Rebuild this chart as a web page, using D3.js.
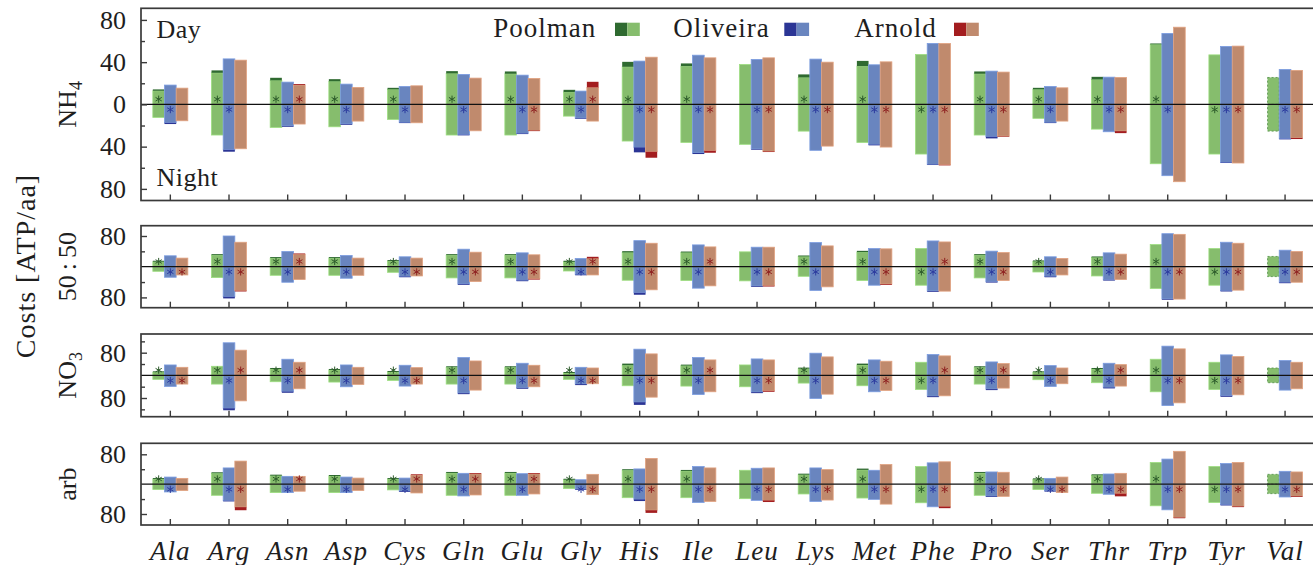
<!DOCTYPE html>
<html><head><meta charset="utf-8">
<script src="https://cdn.jsdelivr.net/npm/d3@7"></script>
<style>
body{margin:0;background:#fff;}
svg{display:block;}
text{font-family:'Liberation Serif','Times New Roman',serif;fill:#1e1e1e;}
</style>
</head><body><svg id="c" width="1313" height="565"></svg>
<script>
const categories = ["Ala","Arg","Asn","Asp","Cys","Gln","Glu","Gly","His","Ile","Leu","Lys","Met","Phe","Pro","Ser","Thr","Trp","Tyr","Val"];
const seriesNames = ["Poolman","Oliveira","Arnold"];
const panelNames = ["NH4","50:50","NO3","arb"];
const tickMajorNH4 = [80,40,0,-40,-80], tickMinorNH4 = [60,20,-20,-60];
const tickMajorMix = [80,-80], tickMinorMix = [40,-40];
const tickMajorNO3 = [80,-80], tickMinorNO3 = [120,40,-40,-120];
const tickMajorArb = [80,-80], tickMinorArb = [40,-40];

// ---- NH4 ----
const nh4PoolmanDay       = [14.2,32.2,25.2,23.9,15.7,31.5,31.2,13.8,40.3,38.8,37.8,28.4,41.2,47.3,31.2,15.7,26.1,57.7,46.9,25.5];
const nh4PoolmanDayDark   = [1.3,2.3,2.5,2.1,1.5,2.2,2.2,2.2,4.7,2.6,0,2.9,5.0,0,2.2,1.5,2.5,0.9,0,0];
const nh4PoolmanNight     = [12.3,29.0,21.8,21.2,14.2,29.0,29.0,11.1,34.7,36.0,37.8,25.3,36.0,47.0,29.0,13.2,23.4,56.2,47.0,25.3];
const nh4PoolmanNightDark = null;
const nh4PoolmanStar      = [1,1,1,1,1,1,1,1,1,1,0,1,1,-1,1,1,1,1,-1,0];
const nh4OliveiraDay       = [18.3,43.1,21.1,19.2,17.0,28.4,27.7,12.6,41.0,46.6,42.6,42.9,37.5,57.7,31.5,17.0,25.8,67.2,54.9,33.1];
const nh4OliveiraDayDark   = null;
const nh4OliveiraNight     = [18.6,44.8,21.2,19.3,17.7,29.3,28.1,13.6,45.4,47.0,42.9,43.5,38.8,57.4,32.2,17.7,25.9,67.5,55.5,33.1];
const nh4OliveiraNightDark = [1.2,1.8,0.7,0.7,0.5,0.6,0.6,0.6,4.7,1.0,0.6,0,0.8,0.5,1.6,0.5,0,0,0.5,0.6];
const nh4OliveiraStar      = [-1,-1,-1,-1,-1,-1,-1,-1,-1,-1,-1,-1,-1,-1,-1,-1,-1,-1,-1,-1];
const nh4ArnoldDay       = [15.4,41.9,19.2,16.1,17.6,24.9,24.6,21.4,44.7,44.1,44.1,40.0,40.3,57.7,30.6,15.7,25.5,73.1,55.2,32.2];
const nh4ArnoldDayDark   = [0,0,0.9,0,0,0,0,5.3,0,0,0,0,0,0,0,0,0,0,0,0];
const nh4ArnoldNight     = [15.5,42.0,18.6,15.8,17.4,25.0,25.3,15.8,50.5,45.8,45.1,39.5,40.4,57.7,30.6,15.8,27.2,73.2,55.5,32.8];
const nh4ArnoldNightDark = [0,0,0,0,0,0,0.6,0,5.7,1.9,0.6,0,0,0.5,0.5,0,1.9,0,0,1.1];
const nh4ArnoldStar      = [0,0,1,0,0,0,-1,1,-1,-1,-1,-1,-1,-1,-1,0,-1,0,-1,-1];

// ---- 50:50 ----
const mixPoolmanDay       = [15.5,32.7,25.0,25.0,17.2,32.7,32.7,15.5,40.5,39.5,38.7,29.2,41.3,47.3,32.7,16.3,26.7,57.6,47.3,26.7];
const mixPoolmanDayDark   = [2.6,2.6,2.6,2.6,2.6,2.6,2.6,3.0,3.5,2.6,0,2.6,3.5,0,2.6,2.6,2.6,0,0,0];
const mixPoolmanNight     = [12.0,28.4,22.4,22.4,14.6,29.2,29.2,11.2,35.3,36.1,36.9,25.0,36.1,48.2,29.2,13.8,24.1,56.8,48.2,25.8];
const mixPoolmanNightDark = null;
const mixPoolmanStar      = [1,1,1,1,1,1,1,1,1,1,0,1,1,-1,1,1,1,1,-1,0];
const mixOliveiraDay       = [28.4,80.0,39.5,29.2,25.8,45.6,36.1,21.5,67.9,56.8,50.8,62.8,47.3,67.1,40.5,25.8,36.1,86.0,63.7,43.0];
const mixOliveiraDayDark   = null;
const mixOliveiraNight     = [27.5,82.6,40.5,30.1,27.5,47.3,37.8,22.4,73.1,55.9,52.5,61.9,48.2,65.4,41.3,27.5,36.1,86.0,64.5,43.0];
const mixOliveiraNightDark = [0,4.4,0,0,2,2,2,2,5.2,0,2,0,0,2,2,2,2,2,2,2];
const mixOliveiraStar      = [-1,-1,-1,-1,-1,-1,-1,-1,-1,-1,-1,-1,-1,-1,-1,-1,-1,-1,-1,-1];
const mixArnoldDay       = [22.4,63.7,34.4,22.4,22.4,37.8,31.0,25.8,61.1,51.6,50.8,54.2,46.5,64.5,36.9,21.5,32.7,84.3,61.1,39.5];
const mixArnoldDayDark   = [0,0,2,0,0,0,0,4.3,0,0,0,0,0,0,0,0,0,0,0,0];
const mixArnoldNight     = [21.5,64.5,33.5,22.4,24.1,38.7,33.5,21.5,60.2,49.9,51.6,52.5,47.3,63.7,36.1,21.5,33.5,84.3,61.1,40.5];
const mixArnoldNightDark = [0,2,0,0,0,0,2,0,0,0,2,0,2,0,0,0,0,0,0,0];
const mixArnoldStar      = [-1,-1,1,0,-1,-1,-1,1,-1,1,-1,0,-1,1,-1,0,-1,-1,-1,-1];

// ---- NO3 ----
const no3PoolmanDay       = [14.2,32.0,26.0,22.5,15.4,32.0,32.0,11.8,41.5,37.9,36.7,27.3,41.5,46.2,32.0,14.2,26.0,56.9,46.2,26.0];
const no3PoolmanDayDark   = [3.5,0,3.5,3.5,3.5,3.5,3.5,3.5,5.9,3.5,0,3.5,5.0,0,3.5,3.5,3.5,0,0,0];
const no3PoolmanNight     = [14.2,30.8,22.5,23.7,17.8,30.8,30.8,14.2,36.7,37.9,40.3,27.3,36.7,49.8,30.8,15.4,26.0,58.0,49.8,26.0];
const no3PoolmanNightDark = null;
const no3PoolmanStar      = [1,1,1,1,1,1,1,1,1,1,0,1,1,-1,1,1,1,1,-1,0];
const no3OliveiraDay       = [36.7,115.0,56.9,36.7,35.6,62.8,42.7,28.4,92.4,62.8,58.0,78.2,54.5,73.5,47.4,34.4,42.7,103.1,72.3,52.1];
const no3OliveiraDayDark   = null;
const no3OliveiraNight     = [39.1,123.3,61.6,40.3,37.9,66.4,47.4,34.4,104.3,67.6,62.8,81.8,58.0,77.0,52.1,39.1,46.2,106.7,75.8,52.1];
const no3OliveiraNightDark = [0,7,4.5,0,0,3.5,3.5,3.5,9.5,0,3.5,0,0,3.5,3.5,0,3.5,0,3.5,0];
const no3OliveiraStar      = [-1,-1,-1,-1,-1,-1,-1,-1,-1,-1,-1,-1,-1,-1,-1,-1,-1,-1,-1,0];
const no3ArnoldDay       = [28.4,88.9,46.2,28.4,27.3,50.8,35.6,26.0,75.8,54.5,54.5,65.2,49.8,68.7,41.5,26.0,37.9,93.5,66.4,46.2];
const no3ArnoldDayDark   = null;
const no3ArnoldNight     = [30.8,90.1,47.4,32.0,30.8,52.1,40.3,29.6,77.0,58.0,58.0,66.4,53.3,72.3,45.0,29.6,37.9,97.1,68.7,47.4];
const no3ArnoldNightDark = [0,0,0,0,0,0,0,0,0,0,3.5,0,0,0,0,0,0,0,0,0];
const no3ArnoldStar      = [-1,1,1,0,-1,0,-1,-1,-1,1,-1,0,-1,1,1,0,1,-1,-1,0];

// ---- arb ----
const arbPoolmanDay       = [16.3,31.8,25.4,24.5,16.3,32.7,32.7,14.5,40.0,38.1,37.2,28.1,41.7,47.2,32.7,15.5,26.3,58.1,47.2,26.3];
const arbPoolmanDayDark   = [2.7,2.7,2.7,2.7,2.7,2.7,2.7,2.7,2.7,2.7,0,2.7,3.5,0,2.7,2.7,2.7,0,0,0];
const arbPoolmanNight     = [14.4,29.9,22.6,22.6,15.4,29.9,29.9,11.8,36.3,36.3,38.9,26.3,37.2,49.9,29.9,14.4,24.5,58.0,49.0,25.4];
const arbPoolmanNightDark = null;
const arbPoolmanStar      = [1,1,1,1,1,1,1,1,1,1,0,1,1,-1,1,1,1,1,-1,0];
const arbOliveiraDay       = [19.0,43.5,20.9,19.0,16.3,29.0,28.1,11.8,40.8,47.2,42.6,43.5,37.2,57.1,32.7,15.5,27.2,67.2,55.3,34.4];
const arbOliveiraDayDark   = null;
const arbOliveiraNight     = [20.9,46.3,22.6,22.6,20.9,31.6,29.9,15.4,45.3,49.0,43.5,46.3,40.8,60.7,34.4,19.9,27.2,68.8,57.1,34.4];
const arbOliveiraNightDark = [0,2,0,0,2,0,0,2,4.5,0,0,0,0,0,2,2,0,0,2,0];
const arbOliveiraStar      = [-1,-1,-1,-1,-1,-1,-1,-1,-1,-1,-1,-1,-1,-1,-1,-1,-1,-1,-1,-1];
const arbArnoldDay       = [15.5,61.8,20.9,16.3,26.3,29.9,29.9,26.3,69.0,43.5,43.5,39.0,52.6,59.9,31.8,19.0,29.0,88.0,58.1,32.7];
const arbArnoldDayDark   = [0,0,0,0,2,2,2,0,0,0,0,0,0,0,0,0,0,0,0,0];
const arbArnoldNight     = [17.1,69.9,19.0,17.1,23.6,29.0,26.3,28.1,77.0,46.3,47.9,42.6,53.5,64.4,32.7,22.6,32.7,91.4,61.6,34.4];
const arbArnoldNightDark = [0,8.3,0,0,0,0,0,0,7.1,0,4.4,0,0,4.5,0,0,7.4,2,2,2];
const arbArnoldStar      = [0,-1,1,0,1,1,1,-1,-1,-1,-1,-1,-1,-1,-1,-1,-1,-1,-1,-1];

const colors = {
  Poolman:  {light:"#86bd6d", dark:"#2f6a30", star:"#2c5a2a"},
  Oliveira: {light:"#6985bf", dark:"#2b3595", star:"#2b3a9e"},
  Arnold:   {light:"#c08a6d", dark:"#a31d1f", star:"#8e2020"}
};

function ser(day, dayDark, night, nightDark, star){ return {day, dayDark, night, nightDark, star}; }
const panels = [
  {name:"NH4", domain:91, top:8.3, bottom:200.5, major:tickMajorNH4, minor:tickMinorNH4,
   data:{Poolman:ser(nh4PoolmanDay,nh4PoolmanDayDark,nh4PoolmanNight,nh4PoolmanNightDark,nh4PoolmanStar),
         Oliveira:ser(nh4OliveiraDay,nh4OliveiraDayDark,nh4OliveiraNight,nh4OliveiraNightDark,nh4OliveiraStar),
         Arnold:ser(nh4ArnoldDay,nh4ArnoldDayDark,nh4ArnoldNight,nh4ArnoldNightDark,nh4ArnoldStar)}},
  {name:"50:50", domain:106.8, top:225.7, bottom:307.7, major:tickMajorMix, minor:tickMinorMix,
   data:{Poolman:ser(mixPoolmanDay,mixPoolmanDayDark,mixPoolmanNight,mixPoolmanNightDark,mixPoolmanStar),
         Oliveira:ser(mixOliveiraDay,mixOliveiraDayDark,mixOliveiraNight,mixOliveiraNightDark,mixOliveiraStar),
         Arnold:ser(mixArnoldDay,mixArnoldDayDark,mixArnoldNight,mixArnoldNightDark,mixArnoldStar)}},
  {name:"NO3", domain:146, top:334, bottom:416.7, major:tickMajorNO3, minor:tickMinorNO3,
   data:{Poolman:ser(no3PoolmanDay,no3PoolmanDayDark,no3PoolmanNight,no3PoolmanNightDark,no3PoolmanStar),
         Oliveira:ser(no3OliveiraDay,no3OliveiraDayDark,no3OliveiraNight,no3OliveiraNightDark,no3OliveiraStar),
         Arnold:ser(no3ArnoldDay,no3ArnoldDayDark,no3ArnoldNight,no3ArnoldNightDark,no3ArnoldStar)}},
  {name:"arb", domain:109.5, top:443.3, bottom:525, major:tickMajorArb, minor:tickMinorArb,
   data:{Poolman:ser(arbPoolmanDay,arbPoolmanDayDark,arbPoolmanNight,arbPoolmanNightDark,arbPoolmanStar),
         Oliveira:ser(arbOliveiraDay,arbOliveiraDayDark,arbOliveiraNight,arbOliveiraNightDark,arbOliveiraStar),
         Arnold:ser(arbArnoldDay,arbArnoldDayDark,arbArnoldNight,arbArnoldNightDark,arbArnoldStar)}}
];

const svg = d3.select("#c");
const left = 141, right = 1314.4;
const x = d3.scaleBand().domain(categories).range([left, right]).padding(0);
const xs = d3.scaleBand().domain(seriesNames).range([-17.5, 17.5]).padding(0);
const axisColor = "#3a3a3a";
const starSym = d3.symbol().type(d3.symbolAsterisk).size(36);

panels.forEach((p, pi) => {
  const y = d3.scaleLinear().domain([-p.domain, p.domain]).range([p.bottom, p.top]);
  const g = svg.append("g");
  const recs = [], stars = [];
  seriesNames.forEach(s => {
    const d = p.data[s];
    categories.forEach((c, i) => {
      const x0 = x(c) + x.bandwidth()/2 + xs(s);
      const dd = d.dayDark ? d.dayDark[i] : 0;
      const nd = d.nightDark ? d.nightDark[i] : 0;
      const dl = d.day[i] - dd, nl = d.night[i] - nd;
      const dashed = (s === "Poolman" && c === "Val");
      recs.push({x0, v0:0, v1:dl, fill:colors[s].light, light:true, dashed});
      if (dd > 0) recs.push({x0, v0:dl, v1:d.day[i], fill:colors[s].dark});
      recs.push({x0, v0:-nl, v1:0, fill:colors[s].light, light:true, dashed});
      if (nd > 0) recs.push({x0, v0:-d.night[i], v1:-nl, fill:colors[s].dark});
      if (d.star[i] !== 0) stars.push({cx:x0 + xs.bandwidth()/2, side:d.star[i], color:colors[s].star});
    });
  });
  g.selectAll("rect.bar").data(recs).join("rect").attr("class","bar")
    .attr("x", r => r.x0).attr("width", xs.bandwidth())
    .attr("y", r => y(r.v1)).attr("height", r => Math.max(0.01, y(r.v0) - y(r.v1)))
    .attr("fill", r => r.fill)
    .attr("stroke", r => r.dashed ? "#4f8f45" : (r.light ? d3.color(r.fill).brighter(0.45) : "none"))
    .attr("stroke-dasharray", r => r.dashed ? "2,2" : null)
    .attr("stroke-width", 0.8);
  g.selectAll("path.star").data(stars).join("path").attr("class","star")
    .attr("d", starSym)
    .attr("transform", s => `translate(${s.cx},${y(0) - s.side*5.2})`)
    .attr("fill","none").attr("stroke", s => s.color).attr("stroke-width", 1.0);

  // zero line
  g.append("line").attr("x1", left).attr("x2", right).attr("y1", y(0)).attr("y2", y(0))
    .attr("stroke","#111").attr("stroke-width",1.3);

  // frame
  g.append("rect").attr("x", left).attr("y", p.top).attr("width", right-left).attr("height", p.bottom-p.top)
    .attr("fill","none").attr("stroke",axisColor).attr("stroke-width",1.7);

  // y axes
  const ya = g.append("g").attr("transform",`translate(${left},0)`)
    .call(d3.axisLeft(y).tickValues(p.major).tickSizeInner(-6).tickSizeOuter(0).tickPadding(15)
      .tickFormat(v => Math.abs(v)));
  ya.select(".domain").remove();
  ya.selectAll("line").attr("stroke",axisColor).attr("stroke-width",1.4);
  ya.selectAll("text").attr("font-size",26).attr("font-family","'Liberation Serif',serif").attr("fill","#1e1e1e");
  const ym = g.append("g").attr("transform",`translate(${left},0)`)
    .call(d3.axisLeft(y).tickValues(p.minor).tickSizeInner(-4).tickSizeOuter(0).tickFormat(""));
  ym.select(".domain").remove();
  ym.selectAll("line").attr("stroke",axisColor).attr("stroke-width",1.4);

  // x axis
  const last = pi === panels.length - 1;
  const xa = g.append("g").attr("transform",`translate(0,${p.bottom})`)
    .call(d3.axisBottom(x).tickSizeInner(-6).tickSizeOuter(0).tickPadding(16).tickFormat(last ? (c => c) : ""));
  xa.select(".domain").remove();
  xa.selectAll("line").attr("stroke",axisColor).attr("stroke-width",1.4);
  xa.selectAll("text").attr("font-size",27).attr("font-style","italic")
    .attr("font-family","'Liberation Serif',serif").attr("fill","#1e1e1e").attr("letter-spacing","1px");

  // panel label
  const lab = svg.append("text").attr("transform",`translate(76,${y(0)}) rotate(-90)`)
    .attr("text-anchor","middle").attr("font-size",26);
  if (p.name === "NH4" || p.name === "NO3") {
    lab.append("tspan").text(p.name.slice(0,2));
    lab.append("tspan").text(p.name.slice(2)).attr("font-size",18).attr("dy",6);
  } else if (p.name === "50:50") {
    lab.append("tspan").text("50");
    lab.append("tspan").text(":").attr("dx",5);
    lab.append("tspan").text("50").attr("dx",5);
  } else {
    lab.text(p.name);
  }
});

// axis title
svg.append("text").attr("transform","translate(35,266) rotate(-90)").attr("text-anchor","middle")
  .attr("font-size",28).attr("letter-spacing","1px").text("Costs [ATP/aa]");

// Day / Night
svg.append("text").attr("x",156.5).attr("y",37.7).attr("font-size",26).attr("letter-spacing","0.5px").text("Day");
svg.append("text").attr("x",156.5).attr("y",186).attr("font-size",26).attr("letter-spacing","0.5px").text("Night");

// legend
const legendPos = [{s:"Poolman", tx:493.3, sx:615}, {s:"Oliveira", tx:673.3, sx:784.3}, {s:"Arnold", tx:854.3, sx:954}];
const lg = svg.append("g");
legendPos.forEach(l => {
  lg.append("text").attr("x", l.tx).attr("y", 36.7).attr("font-size",27).attr("letter-spacing","1px").text(l.s);
  lg.append("rect").attr("x", l.sx).attr("y", 22.7).attr("width",12.3).attr("height",13.3).attr("fill", colors[l.s].dark);
  lg.append("rect").attr("x", l.sx+12.3).attr("y", 22.7).attr("width",12.5).attr("height",13.3).attr("fill", colors[l.s].light);
});
</script>
</body></html>
